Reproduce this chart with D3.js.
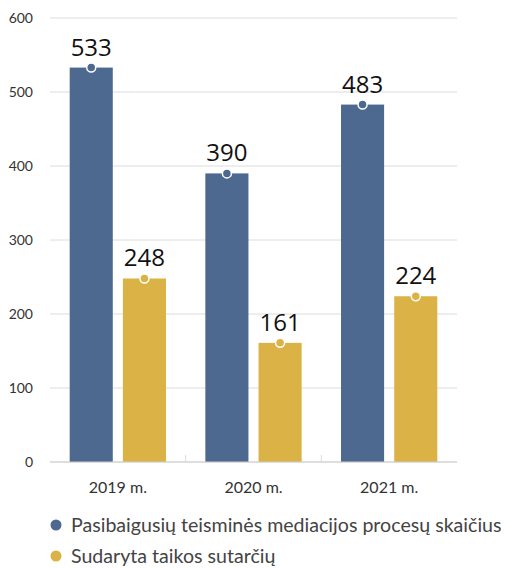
<!DOCTYPE html>
<html>
<head>
<meta charset="utf-8">
<script src="https://cdn.jsdelivr.net/npm/d3@7"></script>
<style>
  body { margin: 0; background: #fff; }
  svg { display: block; }
</style>
</head>
<body>
<svg width="506" height="568"></svg>
<script>
const categories = ["2019 m.", "2020 m.", "2021 m."]
const seriesNames = ["Pasibaigusių teisminės mediacijos procesų skaičius", "Sudaryta taikos sutarčių"]
const processes = [533, 390, 483]
const agreements = [248, 161, 224]
const yTicks = [0, 100, 200, 300, 400, 500, 600]
const colors = ["#4d6990", "#dbb245"]

const svg = d3.select("svg")
const plotLeft = 50, plotRight = 457, plotTop = 18, plotBottom = 462

const x = d3.scaleBand().domain(categories).range([plotLeft, plotRight])
const xs = d3.scaleBand().domain([0, 1]).range([0, x.bandwidth()]).paddingInner(0.19).paddingOuter(0.37)
const y = d3.scaleLinear().domain([0, 600]).range([plotBottom, plotTop])

// gridlines
svg.append("g")
  .selectAll("line")
  .data(yTicks)
  .join("line")
  .attr("x1", plotLeft).attr("x2", plotRight)
  .attr("y1", d => y(d)).attr("y2", d => y(d))
  .attr("stroke", "#dcdcdc").attr("stroke-width", 1)

// y labels
const yAxis = svg.append("g")
  .attr("transform", `translate(${plotLeft - 17},0)`)
  .call(d3.axisLeft(y).tickValues(yTicks).tickSize(0).tickPadding(0))
yAxis.select(".domain").remove()
yAxis.selectAll("text")
  .attr("font-family", "Lato, 'Open Sans', sans-serif")
  .attr("font-size", 14).attr("fill", "#333")

// category separators
svg.append("g")
  .selectAll("line")
  .data(categories.slice(1))
  .join("line")
  .attr("x1", d => x(d)).attr("x2", d => x(d))
  .attr("y1", plotBottom - 7).attr("y2", plotBottom)
  .attr("stroke", "#dcdcdc")

const rows = categories.map((c, i) => ({ cat: c, vals: [processes[i], agreements[i]] }))

const groups = svg.append("g")
  .selectAll("g")
  .data(rows)
  .join("g")
  .attr("transform", d => `translate(${x(d.cat)},0)`)

const items = groups.selectAll("g")
  .data(d => d.vals.map((v, k) => ({ v: v, k: k })))
  .join("g")

items.append("rect")
  .attr("x", d => xs(d.k))
  .attr("y", d => y(d.v))
  .attr("width", xs.bandwidth())
  .attr("height", d => plotBottom - y(d.v))
  .attr("fill", d => colors[d.k])

items.append("circle")
  .attr("cx", d => xs(d.k) + xs.bandwidth() / 2)
  .attr("cy", d => y(d.v))
  .attr("r", 4.5)
  .attr("fill", d => colors[d.k])
  .attr("stroke", "#fff").attr("stroke-width", 1.5)

items.append("text")
  .attr("x", d => xs(d.k) + xs.bandwidth() / 2)
  .attr("y", d => y(d.v) - 12)
  .attr("text-anchor", "middle")
  .attr("font-family", "'Open Sans', sans-serif")
  .attr("font-size", 24)
  .attr("fill", "#111")
  .text(d => d.v)

// baseline
svg.append("line")
  .attr("x1", plotLeft).attr("x2", plotRight)
  .attr("y1", plotBottom).attr("y2", plotBottom)
  .attr("stroke", "#cfcfcf")

// category labels
svg.append("g")
  .selectAll("text")
  .data(categories)
  .join("text")
  .attr("x", d => x(d) + x.bandwidth() / 2)
  .attr("y", 493)
  .attr("text-anchor", "middle")
  .attr("font-family", "Lato, 'Open Sans', sans-serif")
  .attr("font-size", 16).attr("fill", "#333")
  .text(d => d)

// legend
const legend = svg.append("g")
  .selectAll("g")
  .data(seriesNames)
  .join("g")
  .attr("transform", (d, i) => `translate(56,${525 + i * 31})`)

legend.append("circle").attr("r", 5.5).attr("fill", (d, i) => colors[i])
legend.append("text")
  .attr("x", 15).attr("y", 6.5)
  .attr("font-family", "Lato, 'Open Sans', sans-serif")
  .attr("font-size", 19.6).attr("fill", "#444")
  .text(d => d)
</script>
</body>
</html>
